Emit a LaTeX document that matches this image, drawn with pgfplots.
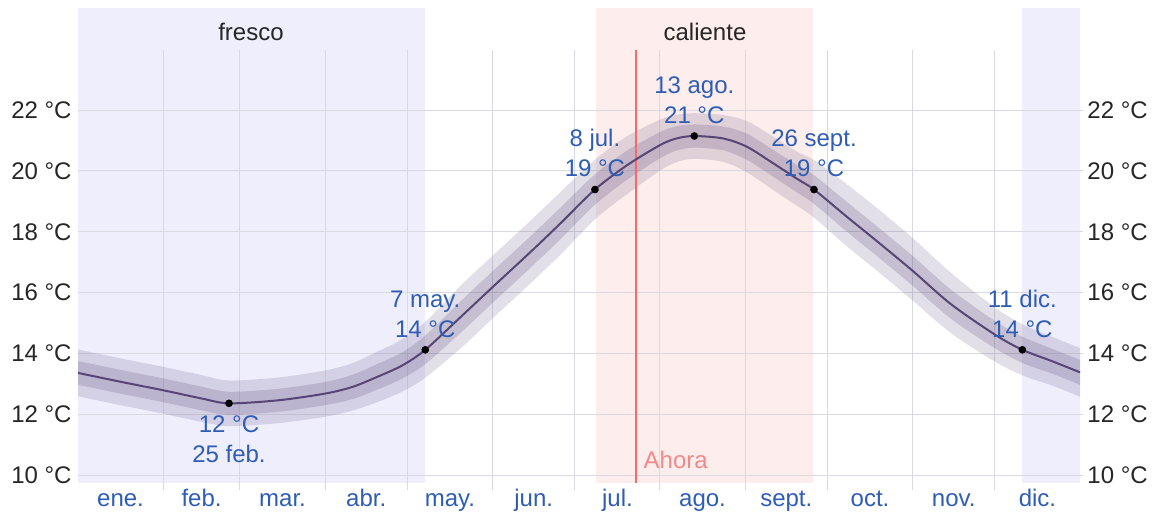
\documentclass[border=0pt]{standalone}
\usepackage{fontspec}
\setmainfont{Liberation Sans}
\usepackage{pgfplots}
\usepackage{pgfplotstable}
\pgfplotsset{compat=1.18}
\usepgfplotslibrary{fillbetween}

\definecolor{fresco}{HTML}{EEEEFD}
\definecolor{caliente}{HTML}{FDEDEC}
\definecolor{gridc}{HTML}{D9D9E1}
\definecolor{lineC}{HTML}{574675}
\definecolor{bandC}{HTML}{6E5F8C}
\definecolor{annC}{HTML}{2F5DB5}
\definecolor{ahoraC}{HTML}{F26B6B}
\definecolor{ahoraT}{HTML}{F08A8A}

\pgfplotstableread{
d     m     lo2   lo1   hi1   hi2
0     13.36 12.59 12.97 13.75 14.13
16    13.06 12.29 12.67 13.45 13.83
31    12.79 12.02 12.40 13.18 13.56
45    12.52 11.75 12.13 12.91 13.29
55    12.36 11.61 11.98 12.74 13.11
73    12.46 11.71 12.08 12.84 13.21
90    12.68 11.92 12.30 13.06 13.44
100   12.90 12.12 12.50 13.30 13.68
109   13.23 12.40 12.81 13.65 14.06
118   13.60 12.74 13.17 14.03 14.46
126.5 14.12 13.20 13.65 14.59 15.04
140   15.25 14.22 14.73 15.77 16.28
151   16.18 15.15 15.66 16.70 17.21
165   17.35 16.32 16.83 17.87 18.38
176   18.30 17.27 17.78 18.82 19.33
188.3 19.39 18.41 18.89 19.89 20.37
200   20.19 19.24 19.71 20.67 21.14
212   20.85 20.01 20.42 21.28 21.69
218   21.07 20.29 20.67 21.47 21.85
224.5 21.15 20.40 20.77 21.53 21.90
235   21.07 20.30 20.68 21.46 21.84
243.6 20.80 19.96 20.37 21.23 21.64
253.3 20.25 19.37 19.81 20.69 21.13
261.8 19.75 18.86 19.30 20.20 20.64
268.1 19.39 18.47 18.92 19.86 20.36
280   18.50 17.53 18.01 18.99 19.57
292   17.62 16.65 17.13 18.11 18.71
304   16.72 15.74 16.23 17.21 17.80
318   15.62 14.67 15.14 16.10 16.65
334   14.62 13.73 14.17 15.07 15.51
344   14.12 13.28 13.69 14.55 14.96
355   13.74 12.94 13.33 14.15 14.54
365   13.38 12.58 12.97 13.79 14.18
}\temps

\begin{document}
\begin{tikzpicture}
\begin{axis}[
  at={(39pt,15pt)}, anchor=south west,
  width=501pt, height=237.5pt, scale only axis,
  xmin=0, xmax=365, ymin=9.74, ymax=25.36,
  clip=false,
  axis line style={draw=none},
  major tick length=0pt,
  xtick={15.5,45,74.5,105,135.5,166,196.5,227.5,258,288.5,319,349.5},
  xticklabels={ene.,feb.,mar.,abr.,may.,jun.,jul.,ago.,sept.,oct.,nov.,dic.},
  ytick={10,12,14,16,18,20,22},
  yticklabels={10 °C,12 °C,14 °C,16 °C,18 °C,20 °C,22 °C},
  ticklabel style={font=\fontsize{12}{14}\selectfont},
  xticklabel style={anchor=base, yshift=-12pt, text=annC, inner sep=0pt},
  yticklabel style={anchor=east, inner sep=0pt, xshift=-3pt, text=black!85},
]
% seasons
\addplot[fill=fresco, draw=none] coordinates {(0,9.74) (126.4,9.74) (126.4,25.36) (0,25.36)} -- cycle;
\addplot[fill=fresco, draw=none] coordinates {(343.9,9.74) (365,9.74) (365,25.36) (343.9,25.36)} -- cycle;
\addplot[fill=caliente, draw=none] coordinates {(188.7,9.74) (267.8,9.74) (267.8,25.36) (188.7,25.36)} -- cycle;
% grid
\pgfplotsinvokeforeach{10,12,14,16,18,20,22}{
  \draw[gridc, line width=0.5pt] (axis cs:0,#1) -- (axis cs:366,#1);
  \node[anchor=west, inner sep=0pt, xshift=3.5pt, text=black!85, font=\fontsize{12}{14}\selectfont] at (axis cs:365,#1) {#1 °C};
}
\pgfplotsinvokeforeach{31,59,90,120,151,181,212,243,273,304,334}{
  \draw[gridc, line width=0.5pt] (axis cs:#1,23.97) -- (axis cs:#1,9.5);
}
% bands
\addplot[name path=A, draw=none, smooth] table[x=d,y=hi2]{\temps};
\addplot[name path=B, draw=none, smooth] table[x=d,y=lo2]{\temps};
\addplot[name path=C, draw=none, smooth] table[x=d,y=hi1]{\temps};
\addplot[name path=D, draw=none, smooth] table[x=d,y=lo1]{\temps};
\addplot[fill=bandC, fill opacity=0.2, draw=none] fill between[of=A and B, on layer=main];
\addplot[fill=bandC, fill opacity=0.25, draw=none] fill between[of=C and D, on layer=main];
% now
\draw[ahoraC, line width=0.7pt] (axis cs:203.3,23.97) -- (axis cs:203.3,9.74);
\node[anchor=base west, inner sep=0pt, text=ahoraT, font=\fontsize{12}{14}\selectfont] at (axis cs:205.9,10.22) {Ahora};
% mean
\addplot[lineC, line width=1pt, smooth] table[x=d,y=m]{\temps};
\addplot[only marks, mark=*, mark size=1.7pt, black] coordinates {(55,12.36) (126.5,14.12) (188.3,19.39) (224.5,21.15) (268.1,19.39) (344,14.12)};
% season labels
\node[anchor=base, inner sep=0pt, text=black!85, font=\fontsize{12}{14}\selectfont] at (axis cs:63,24.3) {fresco};
\node[anchor=base, inner sep=0pt, text=black!85, font=\fontsize{12}{14}\selectfont] at (axis cs:228.4,24.3) {caliente};
% annotations
\tikzset{ann/.style={text=annC, align=center, inner sep=0pt, font=\fontsize{12}{15}\selectfont}}
\node[ann, anchor=north, yshift=-6pt] at (axis cs:55,12.36) {12 °C\\25 feb.};
\node[ann, anchor=south, yshift=6pt] at (axis cs:126.5,14.12) {7 may.\\14 °C};
\node[ann, anchor=south, yshift=6pt] at (axis cs:188.3,19.39) {8 jul.\\19 °C};
\node[ann, anchor=south, yshift=6pt] at (axis cs:224.5,21.15) {13 ago.\\21 °C};
\node[ann, anchor=south, yshift=6pt] at (axis cs:268.1,19.39) {26 sept.\\19 °C};
\node[ann, anchor=south, yshift=6pt] at (axis cs:344,14.12) {11 dic.\\14 °C};
\end{axis}
\pgfresetboundingbox
\useasboundingbox (0,0) rectangle (580.5pt,256.5pt);
\end{tikzpicture}
\end{document}
